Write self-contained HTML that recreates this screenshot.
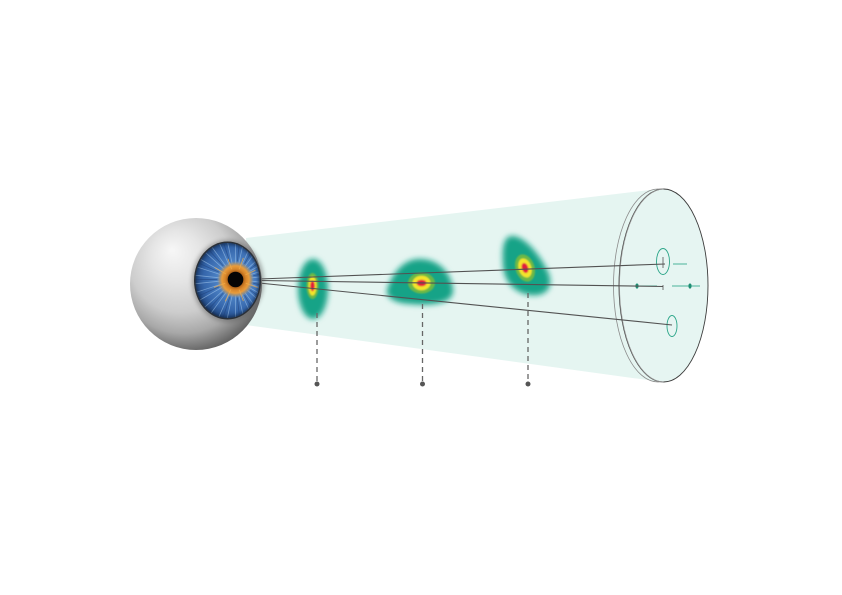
<!DOCTYPE html>
<html><head><meta charset="utf-8"><style>
html,body{margin:0;padding:0;background:#fff;}
svg{display:block;}
</style></head><body>
<svg width="842" height="595" viewBox="0 0 842 595" xmlns="http://www.w3.org/2000/svg">
<defs>
  <radialGradient id="sph" gradientUnits="userSpaceOnUse" cx="186" cy="270" r="84" fx="172" fy="250">
    <stop offset="0" stop-color="#f7f7f7"/>
    <stop offset="0.3" stop-color="#e5e5e5"/>
    <stop offset="0.6" stop-color="#cdcdcd"/>
    <stop offset="0.8" stop-color="#a8a8a8"/>
    <stop offset="1" stop-color="#5e5e5e"/>
  </radialGradient>
  <radialGradient id="iris" gradientUnits="userSpaceOnUse" cx="235" cy="279" r="42">
    <stop offset="0" stop-color="#6e9dd2"/>
    <stop offset="0.45" stop-color="#4a7fc2"/>
    <stop offset="0.75" stop-color="#3566ab"/>
    <stop offset="0.92" stop-color="#244b85"/>
    <stop offset="1" stop-color="#17315b"/>
  </radialGradient>
  <radialGradient id="orange" gradientUnits="userSpaceOnUse" cx="235.5" cy="279.5" r="19">
    <stop offset="0" stop-color="#6a3a10"/>
    <stop offset="0.4" stop-color="#a85e18"/>
    <stop offset="0.55" stop-color="#d8862a"/>
    <stop offset="0.72" stop-color="#e89c3c"/>
    <stop offset="0.86" stop-color="#c89650" stop-opacity="0.5"/>
    <stop offset="1" stop-color="#5a8ac8" stop-opacity="0"/>
  </radialGradient>
  <clipPath id="irisClip"><ellipse cx="227.5" cy="280.5" rx="32" ry="37.5"/></clipPath>
  <filter id="b3" x="-50%" y="-50%" width="200%" height="200%"><feGaussianBlur stdDeviation="3"/></filter>
  <filter id="b1" x="-50%" y="-50%" width="200%" height="200%"><feGaussianBlur stdDeviation="1.2"/></filter>
  <filter id="b06" x="-50%" y="-50%" width="200%" height="200%"><feGaussianBlur stdDeviation="0.7"/></filter>
  <filter id="bs" x="-50%" y="-50%" width="200%" height="200%"><feGaussianBlur stdDeviation="2"/></filter>
</defs>

<!-- beam -->
<polygon points="246,238 658,189 662,382 246,325" fill="#e5f5f1"/>

<!-- disk -->
<ellipse cx="658" cy="285.5" rx="44.5" ry="96.5" fill="#e5f5f1" stroke="#8a8a8a" stroke-width="0.8"/>
<ellipse cx="663.5" cy="285.5" rx="44.5" ry="96.5" fill="#e6f5f2" stroke="#3c3c3c" stroke-width="0.9"/>
<path d="M619.5 285.5 A44.5 96.5 0 0 1 663.5 189" fill="none" stroke="#9a9a9a" stroke-width="0.8"/>
<path d="M619.5 285.5 A44.5 96.5 0 0 0 663.5 382" fill="none" stroke="#9a9a9a" stroke-width="0.8"/>

<!-- disk marks -->
<ellipse cx="663" cy="261.5" rx="6.5" ry="13" fill="none" stroke="#2aa588" stroke-width="0.9"/>
<ellipse cx="672" cy="326" rx="5" ry="10.5" fill="none" stroke="#2aa588" stroke-width="0.9"/>
<line x1="673" y1="264" x2="687" y2="264" stroke="#4bb39a" stroke-width="1"/>
<line x1="627" y1="286" x2="657" y2="286" stroke="#4bb39a" stroke-width="1"/>
<line x1="672" y1="286" x2="700" y2="286" stroke="#4bb39a" stroke-width="1"/>
<ellipse cx="637" cy="286" rx="1.6" ry="2.6" fill="#1f8f74"/>
<ellipse cx="690" cy="286" rx="1.6" ry="2.6" fill="#1f8f74"/>
<line x1="663" y1="257" x2="663" y2="268" stroke="#666" stroke-width="0.9"/>
<line x1="663" y1="285" x2="663" y2="290" stroke="#666" stroke-width="0.9"/>

<!-- spots -->
<ellipse cx="313" cy="289" rx="15" ry="30" fill="#12a387" filter="url(#b3)"/>
<path d="M418 259 C440 258 452 275 453 290 C454 304 430 306 410 304 C392 303 384 296 388 287 C392 275 402 260 418 259 Z" fill="#12a387" filter="url(#b3)"/>
<path d="M512 236 C525 236 540 255 548 272 C555 288 545 297 530 295 C515 293 504 282 503 265 C502 250 503 236 512 236 Z" fill="#12a387" filter="url(#b3)"/>

<g filter="url(#b06)">
  <ellipse cx="312.5" cy="286" rx="6" ry="13" fill="#6cb847"/>
  <ellipse cx="312.5" cy="286" rx="4" ry="9.5" fill="#f3e52a"/>
  <ellipse cx="312.5" cy="286" rx="2.3" ry="5.2" fill="#e21f3c"/>

  <ellipse cx="421.5" cy="283" rx="13.5" ry="10.5" fill="#6cb847"/>
  <ellipse cx="421.5" cy="283" rx="9" ry="7.2" fill="#f3e52a"/>
  <ellipse cx="421.5" cy="283" rx="5" ry="3.3" fill="#e21f3c"/>

  <g transform="rotate(-18 525 268)">
    <ellipse cx="525" cy="268" rx="9.5" ry="14" fill="#6cb847"/>
    <ellipse cx="525" cy="268" rx="6.3" ry="9.8" fill="#f3e52a"/>
    <ellipse cx="525" cy="268" rx="3.2" ry="5.2" fill="#e21f3c"/>
  </g>
</g>

<!-- rays -->
<g stroke="#525252" stroke-width="1.1" fill="none">
  <line x1="259" y1="279" x2="665" y2="264"/>
  <line x1="259" y1="280.5" x2="663" y2="286.5"/>
  <line x1="259" y1="283" x2="672" y2="325"/>
</g>

<!-- dashed leaders -->
<g stroke="#666" stroke-width="1.3" stroke-dasharray="5 4">
  <line x1="317" y1="313" x2="317" y2="382"/>
  <line x1="422.5" y1="304" x2="422.5" y2="382"/>
  <line x1="528" y1="293" x2="528" y2="382"/>
</g>
<g fill="#555">
  <circle cx="317" cy="384" r="2.5"/>
  <circle cx="422.5" cy="384" r="2.5"/>
  <circle cx="528" cy="384" r="2.5"/>
</g>

<!-- eye -->
<circle cx="196" cy="284" r="66" fill="url(#sph)"/>
<ellipse cx="228" cy="281" rx="36" ry="41" fill="#555" opacity="0.45" filter="url(#bs)"/>
<ellipse cx="227.5" cy="280.5" rx="33.5" ry="39" fill="#2a3038"/>
<ellipse cx="227.5" cy="280.5" rx="32" ry="37.5" fill="url(#iris)"/>
<g clip-path="url(#irisClip)">
  <g transform="translate(235.5 279.5)" stroke="#a9cdf0" stroke-width="0.8" opacity="0.55">
    <line x1="0" y1="-16" x2="0" y2="-45"/>
    <line x1="0" y1="-16" x2="0" y2="-45" transform="rotate(12)"/>
    <line x1="0" y1="-16" x2="0" y2="-45" transform="rotate(24)"/>
    <line x1="0" y1="-16" x2="0" y2="-45" transform="rotate(36)"/>
    <line x1="0" y1="-16" x2="0" y2="-45" transform="rotate(48)"/>
    <line x1="0" y1="-16" x2="0" y2="-45" transform="rotate(60)"/>
    <line x1="0" y1="-16" x2="0" y2="-45" transform="rotate(72)"/>
    <line x1="0" y1="-16" x2="0" y2="-45" transform="rotate(84)"/>
    <line x1="0" y1="-16" x2="0" y2="-45" transform="rotate(96)"/>
    <line x1="0" y1="-16" x2="0" y2="-45" transform="rotate(108)"/>
    <line x1="0" y1="-16" x2="0" y2="-45" transform="rotate(120)"/>
    <line x1="0" y1="-16" x2="0" y2="-45" transform="rotate(132)"/>
    <line x1="0" y1="-16" x2="0" y2="-45" transform="rotate(144)"/>
    <line x1="0" y1="-16" x2="0" y2="-45" transform="rotate(156)"/>
    <line x1="0" y1="-16" x2="0" y2="-45" transform="rotate(168)"/>
    <line x1="0" y1="-16" x2="0" y2="-45" transform="rotate(180)"/>
    <line x1="0" y1="-16" x2="0" y2="-45" transform="rotate(192)"/>
    <line x1="0" y1="-16" x2="0" y2="-45" transform="rotate(204)"/>
    <line x1="0" y1="-16" x2="0" y2="-45" transform="rotate(216)"/>
    <line x1="0" y1="-16" x2="0" y2="-45" transform="rotate(228)"/>
    <line x1="0" y1="-16" x2="0" y2="-45" transform="rotate(240)"/>
    <line x1="0" y1="-16" x2="0" y2="-45" transform="rotate(252)"/>
    <line x1="0" y1="-16" x2="0" y2="-45" transform="rotate(264)"/>
    <line x1="0" y1="-16" x2="0" y2="-45" transform="rotate(276)"/>
    <line x1="0" y1="-16" x2="0" y2="-45" transform="rotate(288)"/>
    <line x1="0" y1="-16" x2="0" y2="-45" transform="rotate(300)"/>
    <line x1="0" y1="-16" x2="0" y2="-45" transform="rotate(312)"/>
    <line x1="0" y1="-16" x2="0" y2="-45" transform="rotate(324)"/>
    <line x1="0" y1="-16" x2="0" y2="-45" transform="rotate(336)"/>
    <line x1="0" y1="-16" x2="0" y2="-45" transform="rotate(348)"/>
  </g>
  <g transform="translate(235.5 279.5)" stroke="#1e3f78" stroke-width="0.9" opacity="0.5">
    <line x1="0" y1="-18" x2="0" y2="-45" transform="rotate(6)"/>
    <line x1="0" y1="-18" x2="0" y2="-45" transform="rotate(30)"/>
    <line x1="0" y1="-18" x2="0" y2="-45" transform="rotate(54)"/>
    <line x1="0" y1="-18" x2="0" y2="-45" transform="rotate(78)"/>
    <line x1="0" y1="-18" x2="0" y2="-45" transform="rotate(102)"/>
    <line x1="0" y1="-18" x2="0" y2="-45" transform="rotate(126)"/>
    <line x1="0" y1="-18" x2="0" y2="-45" transform="rotate(150)"/>
    <line x1="0" y1="-18" x2="0" y2="-45" transform="rotate(174)"/>
    <line x1="0" y1="-18" x2="0" y2="-45" transform="rotate(198)"/>
    <line x1="0" y1="-18" x2="0" y2="-45" transform="rotate(222)"/>
    <line x1="0" y1="-18" x2="0" y2="-45" transform="rotate(246)"/>
    <line x1="0" y1="-18" x2="0" y2="-45" transform="rotate(270)"/>
    <line x1="0" y1="-18" x2="0" y2="-45" transform="rotate(294)"/>
    <line x1="0" y1="-18" x2="0" y2="-45" transform="rotate(318)"/>
    <line x1="0" y1="-18" x2="0" y2="-45" transform="rotate(342)"/>
  </g>
  <circle cx="235.5" cy="279.5" r="19" fill="url(#orange)"/>
  <g transform="translate(235.5 279.5)" stroke="#f0ad4c" stroke-width="1" opacity="0.7">
    <line x1="0" y1="-11" x2="0" y2="-23" transform="rotate(20)"/>
    <line x1="0" y1="-11" x2="0" y2="-22" transform="rotate(65)"/>
    <line x1="0" y1="-11" x2="0" y2="-24" transform="rotate(110)"/>
    <line x1="0" y1="-11" x2="0" y2="-23" transform="rotate(160)"/>
    <line x1="0" y1="-11" x2="0" y2="-24" transform="rotate(205)"/>
    <line x1="0" y1="-11" x2="0" y2="-23" transform="rotate(250)"/>
    <line x1="0" y1="-11" x2="0" y2="-24" transform="rotate(300)"/>
    <line x1="0" y1="-11" x2="0" y2="-22" transform="rotate(340)"/>
  </g>
  <ellipse cx="227.5" cy="280.5" rx="32" ry="37.5" fill="none" stroke="#142a4a" stroke-width="3" opacity="0.6" filter="url(#b1)"/>
</g>
<circle cx="235.5" cy="279.5" r="7.8" fill="#050505"/>
</svg>
</body></html>
